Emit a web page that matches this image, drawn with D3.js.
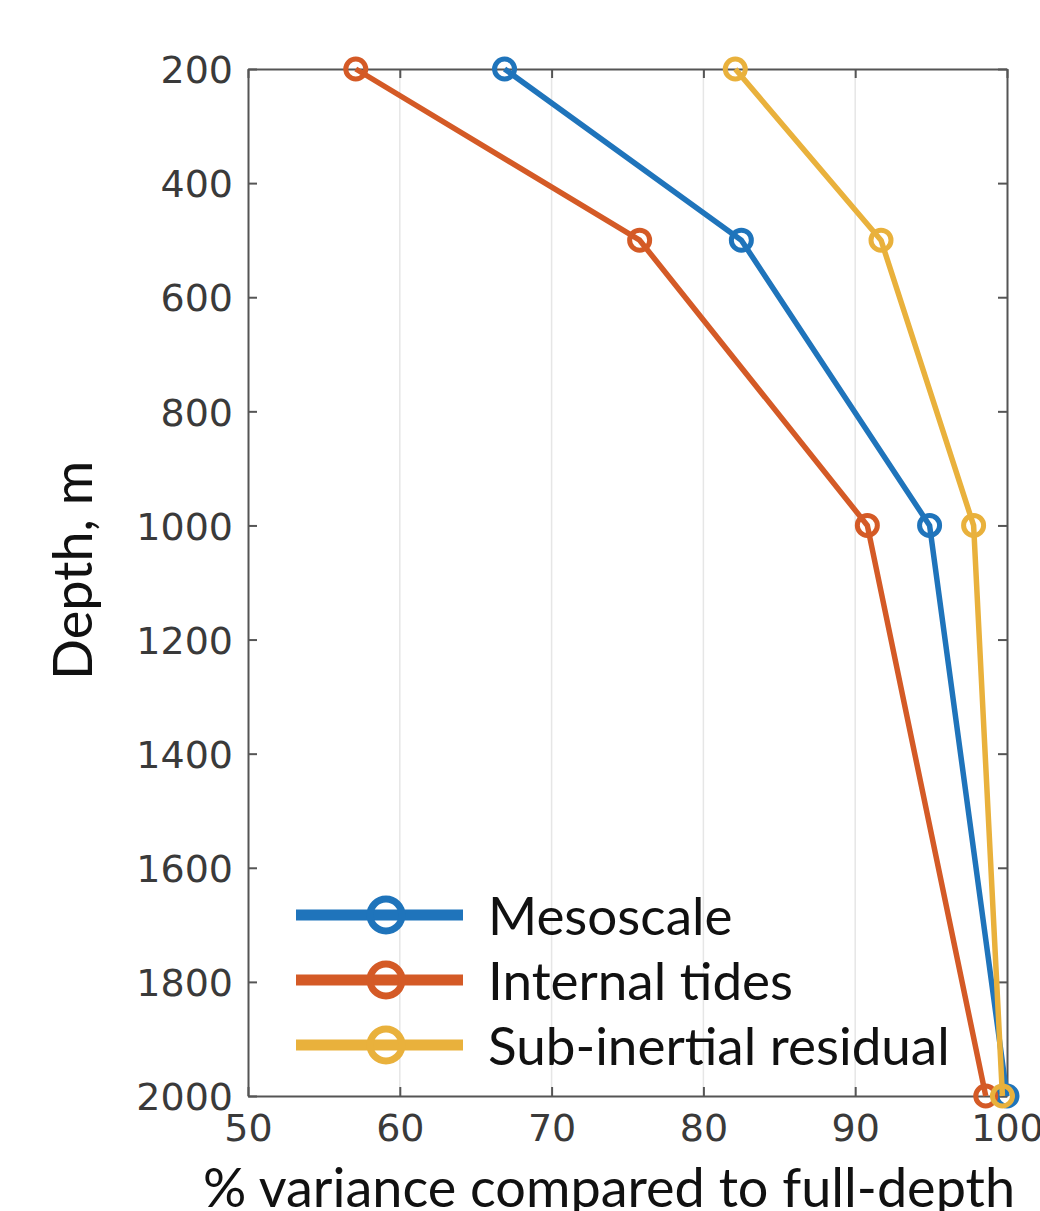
<!DOCTYPE html>
<html lang="en">
<head>
    <meta charset="UTF-8">
    <title>Variance vs depth</title>
    <script src="https://d3js.org/d3.v7.min.js"></script>
    <style>
        body { margin: 0; background: #fff; }
        svg { display: block; }
        .tick text { font-family: "DejaVu Sans", sans-serif; font-size: 38px; fill: #3a3a3a; }
        .lbl { font-family: "Lato", "Open Sans", sans-serif; fill: #111; }
    </style>
</head>
<body>
    <svg id="chart"></svg>
    <script>
        // depths (m) and % variance for each series
        const depths = [200, 500, 1000, 2000];
        const mesoscale = [66.9, 82.5, 94.9, 100];
        const internalTides = [57.1, 75.8, 90.8, 98.6];
        const subInertial = [82.1, 91.7, 97.8, 99.7];
        const seriesNames = ["Mesoscale", "Internal tides", "Sub-inertial residual"];
        const colors = ["#1f74bb", "#d45a26", "#e9b13c"];
        const xTicks = [50, 60, 70, 80, 90, 100];
        const yTicks = [200, 400, 600, 800, 1000, 1200, 1400, 1600, 1800, 2000];

        const W = 1040, H = 1211;
        const margin = { top: 69, right: 33, bottom: 115, left: 248 };
        const width = W - margin.left - margin.right;
        const height = H - margin.top - margin.bottom;

        const svg = d3.select("#chart").attr("width", W).attr("height", H);
        const g = svg.append("g").attr("transform", `translate(${margin.left},${margin.top})`);

        const x = d3.scaleLinear().domain([50, 100]).range([0, width]);
        const y = d3.scaleLinear().domain([200, 2000]).range([0, height]);

        // grid
        g.selectAll(".grid").data(xTicks.slice(1, -1)).enter().append("line")
            .attr("x1", d => x(d)).attr("x2", d => x(d))
            .attr("y1", 0).attr("y2", height)
            .attr("stroke", "#e6e6e6").attr("stroke-width", 1.5);

        const axisColor = "#555";
        const tl = 9;
        const fmt = d3.format("d");

        const xb = g.append("g").attr("transform", `translate(0,${height})`)
            .call(d3.axisBottom(x).tickValues(xTicks).tickFormat(fmt).tickSizeInner(-tl).tickSizeOuter(0).tickPadding(15));
        const xt = g.append("g")
            .call(d3.axisTop(x).tickValues(xTicks).tickSizeInner(-tl).tickSizeOuter(0).tickFormat(""));
        const yl = g.append("g")
            .call(d3.axisLeft(y).tickValues(yTicks).tickFormat(fmt).tickSizeInner(-tl).tickSizeOuter(0).tickPadding(15));
        const yr = g.append("g").attr("transform", `translate(${width},0)`)
            .call(d3.axisRight(y).tickValues(yTicks).tickSizeInner(-tl).tickSizeOuter(0).tickFormat(""));

        [xb, xt, yl, yr].forEach(a => {
            a.select(".domain").attr("stroke", axisColor).attr("stroke-width", 2);
            a.selectAll(".tick line").attr("stroke", axisColor).attr("stroke-width", 2);
        });
        xb.selectAll(".tick text").attr("dy", "0.8em");
        yl.selectAll(".tick text").attr("dy", "0.36em");

        const all = [mesoscale, internalTides, subInertial];
        const line = d3.line().x(d => x(d[0])).y(d => y(d[1]));

        all.forEach((vals, i) => {
            const pts = vals.map((v, j) => [v, depths[j]]);
            g.append("path").datum(pts)
                .attr("d", line).attr("fill", "none")
                .attr("stroke", colors[i]).attr("stroke-width", 5.5)
                .attr("stroke-linejoin", "round");
            g.selectAll(null).data(pts).enter().append("circle")
                .attr("cx", d => x(d[0])).attr("cy", d => y(d[1]))
                .attr("r", 10).attr("fill", "none")
                .attr("stroke", colors[i]).attr("stroke-width", 5);
        });

        // legend
        const leg = g.append("g");
        seriesNames.forEach((name, i) => {
            const ly = 846 + i * 65;
            leg.append("line").attr("x1", 48).attr("x2", 215)
                .attr("y1", ly).attr("y2", ly)
                .attr("stroke", colors[i]).attr("stroke-width", 11);
            leg.append("circle").attr("cx", 138).attr("cy", ly).attr("r", 16)
                .attr("fill", "none").attr("stroke", colors[i]).attr("stroke-width", 7);
            leg.append("text").attr("class", "lbl")
                .attr("x", 240).attr("y", ly + 20)
                .attr("font-size", 53).text(name);
        });

        // axis labels
        svg.append("text").attr("class", "lbl")
            .attr("transform", `translate(92,${margin.top + height / 2 - 12}) rotate(-90)`)
            .attr("text-anchor", "middle").attr("font-size", 54)
            .text("Depth, m");
        svg.append("text").attr("class", "lbl")
            .attr("x", 609).attr("y", 1207)
            .attr("text-anchor", "middle").attr("font-size", 54)
            .text("% variance compared to full-depth");
    </script>
</body>
</html>
